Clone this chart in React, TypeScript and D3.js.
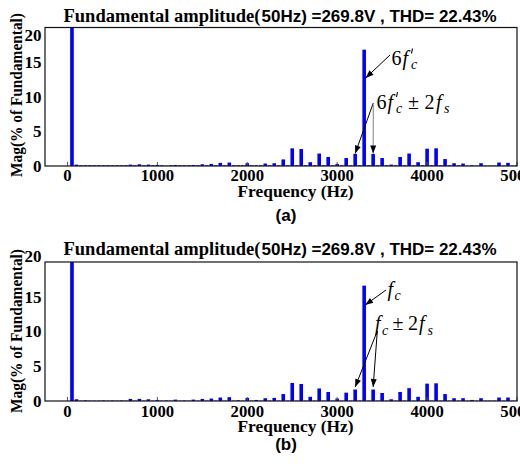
import React from 'react';
import * as d3 from 'd3';

// Harmonic orders of the 50 Hz fundamental shown in the spectrum (50 Hz .. 5 kHz)
const fundamentalHz = 50;
const harmonicOrders = [
  1, 2, 3, 4, 5, 6, 7, 8, 9, 10,
  11, 12, 13, 14, 15, 16, 17, 18, 19, 20,
  21, 22, 23, 24, 25, 26, 27, 28, 29, 30,
  31, 32, 33, 34, 35, 36, 37, 38, 39, 40,
  41, 42, 43, 44, 45, 46, 47, 48, 49, 50,
  51, 52, 53, 54, 55, 56, 57, 58, 59, 60,
  61, 62, 63, 64, 65, 66, 67, 68, 69, 70,
  71, 72, 73, 74, 75, 76, 77, 78, 79, 80,
  81, 82, 83, 84, 85, 86, 87, 88, 89, 90,
  91, 92, 93, 94, 95, 96, 97, 98, 99, 100,
];

// Magnitudes in % of fundamental, spectrum (a)
const magnitudesA = [
  100, 0.2, 0.1, 0.1, 0.1, 0.1, 0.1, 0.1, 0.1, 0.1,
  0.1, 0.1, 0.1, 0.2, 0.1, 0.25, 0.1, 0.2, 0.1, 0.15,
  0.1, 0.05, 0.1, 0.15, 0.1, 0.1, 0.1, 0.15, 0.1, 0.25,
  0.1, 0.3, 0.1, 0.45, 0.1, 0.5, 0.1, 0.1, 0.1, 0.4,
  0.1, 0.1, 0.1, 0.35, 0.1, 0.4, 0.1, 0.95, 0.1, 2.55,
  0.1, 2.45, 0.1, 0.55, 0.1, 1.8, 0.1, 1.3, 0.1, 0.3,
  0.1, 1.15, 0.1, 1.75, 0.1, 16.8, 0.1, 1.75, 0.1, 1.15,
  0.1, 0.2, 0.1, 1.3, 0.1, 1.8, 0.1, 0.55, 0.1, 2.5,
  0.1, 2.55, 0.1, 1.0, 0.1, 0.4, 0.1, 0.35, 0.05, 0.1,
  0.05, 0.4, 0.05, 0.05, 0.05, 0.5, 0.05, 0.45, 0.05, 0.1,
];

// Magnitudes in % of fundamental, spectrum (b)
const magnitudesB = [
  100, 0.25, 0.05, 0.1, 0.05, 0.05, 0.05, 0.08, 0.05, 0.08,
  0.05, 0.08, 0.05, 0.3, 0.05, 0.3, 0.05, 0.25, 0.05, 0.15,
  0.05, 0.08, 0.05, 0.2, 0.05, 0.08, 0.05, 0.2, 0.05, 0.3,
  0.05, 0.35, 0.05, 0.5, 0.05, 0.55, 0.05, 0.1, 0.05, 0.45,
  0.05, 0.15, 0.05, 0.4, 0.05, 0.45, 0.05, 1.0, 0.05, 2.6,
  0.05, 2.45, 0.05, 0.6, 0.05, 1.8, 0.05, 1.3, 0.05, 0.35,
  0.05, 1.2, 0.05, 1.65, 0.05, 16.6, 0.05, 1.65, 0.05, 1.15,
  0.05, 0.25, 0.05, 1.3, 0.05, 1.85, 0.05, 0.6, 0.05, 2.5,
  0.05, 2.55, 0.05, 1.0, 0.05, 0.4, 0.05, 0.4, 0.05, 0.15,
  0.05, 0.4, 0.05, 0.05, 0.05, 0.5, 0.05, 0.5, 0.05, 0.05,
];

const xTicks = [0, 1000, 2000, 3000, 4000, 5000];
const yTicks = [0, 5, 10, 15, 20];
const titleSerif = 'Fundamental amplitude(';
const titleSans = '50Hz) =269.8V , THD= 22.43%';
const yAxisLabel = 'Mag(% of Fundamental)';
const xAxisLabel = 'Frequency (Hz)';

const SERIF = '"Liberation Serif", "Times New Roman", serif';
const SANS = '"Liberation Sans", Arial, sans-serif';
const BAR_COLOR = '#0000ff';

const W = 520;
const H = 464;
const LEFT = 45;
const RIGHT = 517;

const x = d3.scaleLinear().domain([-250, 5000]).range([LEFT, RIGHT]);
const barWidth = (x(fundamentalHz) - x(0)) * 0.8;

type PanelProps = {
  id: string;
  values: number[];
  top: number;
  bottom: number;
  titleY: number;
  tickLabelY: number;
  topTickLabelY: number;
  xLabelY: number;
  captionY: number;
  yLabelCenter: number;
  children?: React.ReactNode;
};

function arrowHead(x1: number, y1: number, x2: number, y2: number, len = 8, half = 3) {
  const ang = Math.atan2(y2 - y1, x2 - x1);
  const bx = x2 - len * Math.cos(ang);
  const by = y2 - len * Math.sin(ang);
  const px = -Math.sin(ang) * half;
  const py = Math.cos(ang) * half;
  return `M${x2},${y2}L${bx + px},${by + py}L${bx - px},${by - py}Z`;
}

function Arrow({ x1, y1, x2, y2, color = '#000' }: { x1: number; y1: number; x2: number; y2: number; color?: string }) {
  return (
    <g>
      <line x1={x1} y1={y1} x2={x2} y2={y2} stroke={color} strokeWidth={1} />
      <path d={arrowHead(x1, y1, x2, y2)} fill="#000" />
    </g>
  );
}

function Panel(p: PanelProps) {
  const y = d3.scaleLinear().domain([0, 20]).range([p.bottom, p.top]);
  const clipId = `plot-clip-${p.id}`;
  return (
    <g>
      <defs>
        <clipPath id={clipId}>
          <rect x={LEFT} y={p.top} width={RIGHT - LEFT} height={p.bottom - p.top} />
        </clipPath>
      </defs>
      {/* title: serif head, sans tail */}
      <text
        x={63.5}
        y={p.titleY}
        fontFamily={SERIF}
        fontWeight="bold"
        fontSize={18}
        textLength={197}
        lengthAdjust="spacingAndGlyphs"
        fill="#000"
      >
        {titleSerif}
      </text>
      <text
        x={261.5}
        y={p.titleY}
        fontFamily={SANS}
        fontWeight="bold"
        fontSize={16.5}
        textLength={235}
        lengthAdjust="spacingAndGlyphs"
        fill="#000"
      >
        {titleSans}
      </text>

      {/* bars */}
      <g clipPath={`url(#${clipId})`}>
        {harmonicOrders.map((n, i) => {
          const v = p.values[i];
          const cx = x(n * fundamentalHz);
          return (
            <rect
              key={n}
              x={cx - barWidth / 2}
              y={y(v)}
              width={barWidth}
              height={p.bottom - y(v)}
              fill={BAR_COLOR}
            />
          );
        })}
      </g>

      {/* x ticks inside the box */}
      {xTicks.map((t) => (
        <line key={t} x1={x(t)} x2={x(t)} y1={p.bottom} y2={p.bottom - 4} stroke="#555" strokeWidth={1} />
      ))}

      {/* frame */}
      <rect
        x={LEFT}
        y={p.top}
        width={RIGHT - LEFT}
        height={p.bottom - p.top}
        fill="none"
        stroke="#111"
        strokeWidth={1.2}
      />

      {/* y tick labels */}
      {yTicks.map((t) => (
        <text
          key={t}
          x={41.5}
          y={t === 20 ? p.topTickLabelY : y(t)}
          dy="0.35em"
          textAnchor="end"
          fontFamily={SERIF}
          fontWeight="bold"
          fontSize={17}
          fill="#000"
        >
          {t}
        </text>
      ))}

      {/* x tick labels */}
      {xTicks.map((t) => (
        <text
          key={t}
          x={x(t)}
          y={p.tickLabelY}
          textAnchor="middle"
          fontFamily={SERIF}
          fontWeight="bold"
          fontSize={16.7}
          fill="#000"
        >
          {t}
        </text>
      ))}

      <text
        x={237.5}
        y={p.xLabelY}
        fontFamily={SERIF}
        fontWeight="bold"
        fontSize={17}
        textLength={116}
        lengthAdjust="spacingAndGlyphs"
        fill="#000"
      >
        {xAxisLabel}
      </text>

      <text
        transform={`translate(21.5,${p.yLabelCenter}) rotate(-90)`}
        x={-82}
        fontFamily={SERIF}
        fontWeight="bold"
        fontSize={16.5}
        textLength={164}
        lengthAdjust="spacingAndGlyphs"
        fill="#000"
      >
        {yAxisLabel}
      </text>

      <text
        x={286}
        y={p.captionY}
        textAnchor="middle"
        fontFamily={SANS}
        fontWeight="bold"
        fontSize={17}
        fill="#000"
      >
        {`(${p.id})`}
      </text>

      {p.children}
    </g>
  );
}

const mathText = { fontFamily: SERIF, fill: '#000' } as const;

// small prime mark drawn above the subscript
function Prime({ px, py }: { px: number; py: number }) {
  return <line x1={px + 1} y1={py} x2={px} y2={py + 5} stroke="#000" strokeWidth={1.1} />;
}

function AnnotationA() {
  const xc = x(3300);
  const xl = x(3200);
  const xr = x(3400);
  return (
    <g>
      <text x={391.5} y={65} fontSize={20} {...mathText}>6</text>
      <text x={402.5} y={65} fontSize={20} fontStyle="italic" {...mathText}>f</text>
      <Prime px={411.5} py={48.5} />
      <text x={411} y={68.5} fontSize={14} fontStyle="italic" {...mathText}>c</text>
      <Arrow x1={390} y1={55} x2={xc + 1.5} y2={78} />

      <text x={376.5} y={108.5} fontSize={20} {...mathText}>6</text>
      <text x={387.5} y={108.5} fontSize={20} fontStyle="italic" {...mathText}>f</text>
      <Prime px={396.5} py={92} />
      <text x={396} y={112.5} fontSize={14} fontStyle="italic" {...mathText}>c</text>
      <text x={408} y={108.5} fontSize={20} {...mathText}>±</text>
      <text x={424.5} y={108.5} fontSize={20} {...mathText}>2</text>
      <text x={436} y={108.5} fontSize={20} fontStyle="italic" {...mathText}>f</text>
      <text x={444} y={112.5} fontSize={14} fontStyle="italic" {...mathText}>s</text>
      <Arrow x1={373.3} y1={103} x2={xl} y2={153.5} />
      <Arrow x1={373.3} y1={105} x2={xr} y2={153.5} color="#808080" />
    </g>
  );
}

function AnnotationB() {
  const xc = x(3300);
  const xl = x(3200);
  const xr = x(3400);
  return (
    <g>
      <text x={387.5} y={296} fontSize={20} fontStyle="italic" {...mathText}>f</text>
      <text x={394.5} y={300} fontSize={14} fontStyle="italic" {...mathText}>c</text>
      <Arrow x1={386} y1={290} x2={xc + 1} y2={305} />

      <text x={375} y={330} fontSize={20} fontStyle="italic" {...mathText}>f</text>
      <text x={382} y={334.5} fontSize={14} fontStyle="italic" {...mathText}>c</text>
      <text x={392.5} y={330} fontSize={20} {...mathText}>±</text>
      <text x={408} y={330} fontSize={20} {...mathText}>2</text>
      <text x={419} y={330} fontSize={20} fontStyle="italic" {...mathText}>f</text>
      <text x={427.5} y={334.5} fontSize={14} fontStyle="italic" {...mathText}>s</text>
      <Arrow x1={377.3} y1={331} x2={xl} y2={387} />
      <Arrow x1={377.3} y1={331} x2={xr} y2={387} />
    </g>
  );
}

export default function App() {
  return (
    <svg
      width={W}
      height={H}
      viewBox={`0 0 ${W} ${H}`}
      style={{ position: 'absolute', left: 0, top: 0, background: '#fff' }}
    >
      <rect width={W} height={H} fill="#fff" />
      <Panel
        id="a"
        values={magnitudesA}
        top={27.5}
        bottom={166}
        titleY={21.5}
        tickLabelY={180.5}
        topTickLabelY={35}
        xLabelY={197}
        captionY={220.5}
        yLabelCenter={95}
      >
        <AnnotationA />
      </Panel>
      <Panel
        id="b"
        values={magnitudesB}
        top={262}
        bottom={401}
        titleY={255}
        tickLabelY={416.5}
        topTickLabelY={256}
        xLabelY={431.7}
        captionY={450}
        yLabelCenter={331}
      >
        <AnnotationB />
      </Panel>
    </svg>
  );
}
